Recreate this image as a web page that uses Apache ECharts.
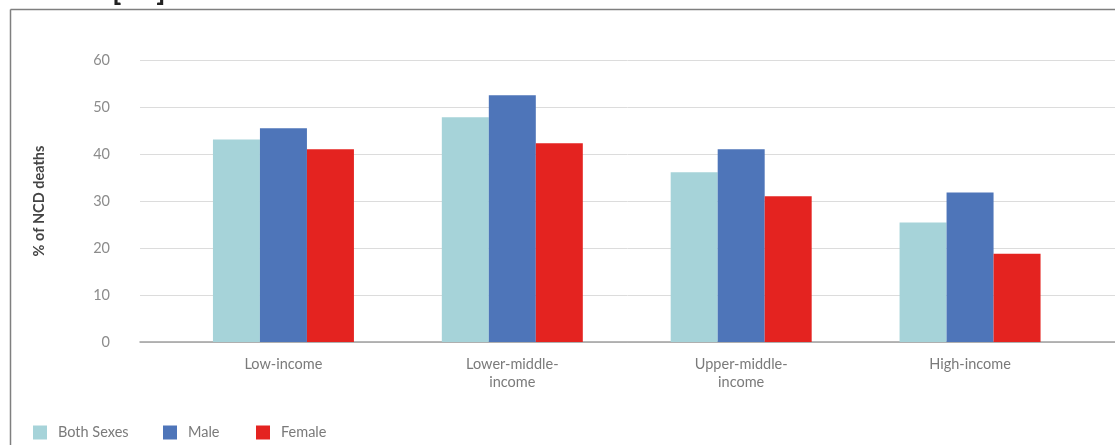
<!DOCTYPE html>
<html>
<head>
<meta charset="utf-8">
<script src="https://cdn.jsdelivr.net/npm/echarts@6/dist/echarts.min.js"></script>
<style>
  html, body { margin: 0; padding: 0; background: #fff; }
  #chart { width: 1115px; height: 445px; }
</style>
</head>
<body>
<div id="chart"></div>
<script>
// Income groups and share of NCD deaths (%) by sex
const categories = ['Low-income', 'Lower-middle-\nincome', 'Upper-middle-\nincome', 'High-income'];
const seriesNames = ['Both Sexes', 'Male', 'Female'];
const bothSexes = [43.1, 47.8, 36.1, 25.4];
const male = [45.5, 52.5, 41.0, 31.8];
const female = [41.0, 42.3, 31.0, 18.8];
const yTicks = { min: 0, max: 60, interval: 10 };

const colors = ['#a6d3d9', '#4e75b9', '#e42320'];
const font = 'Lato, "Open Sans", sans-serif';

const chart = echarts.init(document.getElementById('chart'), null, { renderer: 'canvas' });

function legendAt(left, name) {
  return {
    data: [name],
    left: left,
    top: 420,
    icon: 'rect',
    itemWidth: 14,
    itemHeight: 14,
    selectedMode: false,
    textStyle: { color: '#7a7a7a', fontSize: 14.5, fontFamily: font, padding: [0, 0, 0, 6] }
  };
}

chart.setOption({
  animation: false,
  textStyle: { fontFamily: font },
  legend: [legendAt(28, seriesNames[0]), legendAt(158, seriesNames[1]), legendAt(251, seriesNames[2])],
  grid: [
    { left: 140, right: 0, top: 60, bottom: 103 },
    { left: 169, right: 30.5, top: 60, bottom: 103 }
  ],
  xAxis: [
    {
      gridIndex: 0, type: 'category', data: [''],
      axisLine: { lineStyle: { color: '#a0a0a0', width: 1.5 } },
      axisTick: { show: false }, axisLabel: { show: false }
    },
    {
      gridIndex: 1, type: 'category', data: categories,
      axisLine: { show: false }, axisTick: { show: false },
      axisLabel: { color: '#7a7a7a', fontSize: 14.5, margin: 13, lineHeight: 18, fontFamily: font }
    }
  ],
  yAxis: [
    {
      gridIndex: 0, type: 'value', min: yTicks.min, max: yTicks.max, interval: yTicks.interval,
      name: '% of NCD deaths', nameLocation: 'middle', nameGap: 93, nameRotate: 90,
      nameTextStyle: { color: '#444', fontSize: 14.5, fontWeight: 'bold', fontFamily: font },
      axisLine: { show: false }, axisTick: { show: false },
      axisLabel: { color: '#8c8c8c', fontSize: 14.5, margin: 30, fontFamily: font },
      splitLine: { lineStyle: { color: '#dcdcdc', width: 1 } }
    },
    {
      gridIndex: 1, type: 'value', min: yTicks.min, max: yTicks.max, interval: yTicks.interval,
      show: false, splitLine: { show: false }
    }
  ],
  series: [bothSexes, male, female].map((vals, i) => ({
    name: seriesNames[i],
    type: 'bar',
    xAxisIndex: 1,
    yAxisIndex: 1,
    data: vals,
    barGap: '0%',
    barCategoryGap: '38.4%',
    itemStyle: { color: colors[i] }
  })),
  graphic: [
    // page frame
    { type: 'line', shape: { x1: 10.5, y1: 9.5, x2: 1115, y2: 9.5 }, style: { stroke: '#7f7f7f', lineWidth: 1.5 } },
    { type: 'line', shape: { x1: 10.5, y1: 9.5, x2: 10.5, y2: 445 }, style: { stroke: '#7f7f7f', lineWidth: 1.5 } },
    // source heading above the frame
    { type: 'text', style: { x: 0, y: 5, verticalAlign: 'bottom', text: 'Sources [18]', fill: '#222', font: 'bold 30px ' + font } }
  ]
});
</script>
</body>
</html>
